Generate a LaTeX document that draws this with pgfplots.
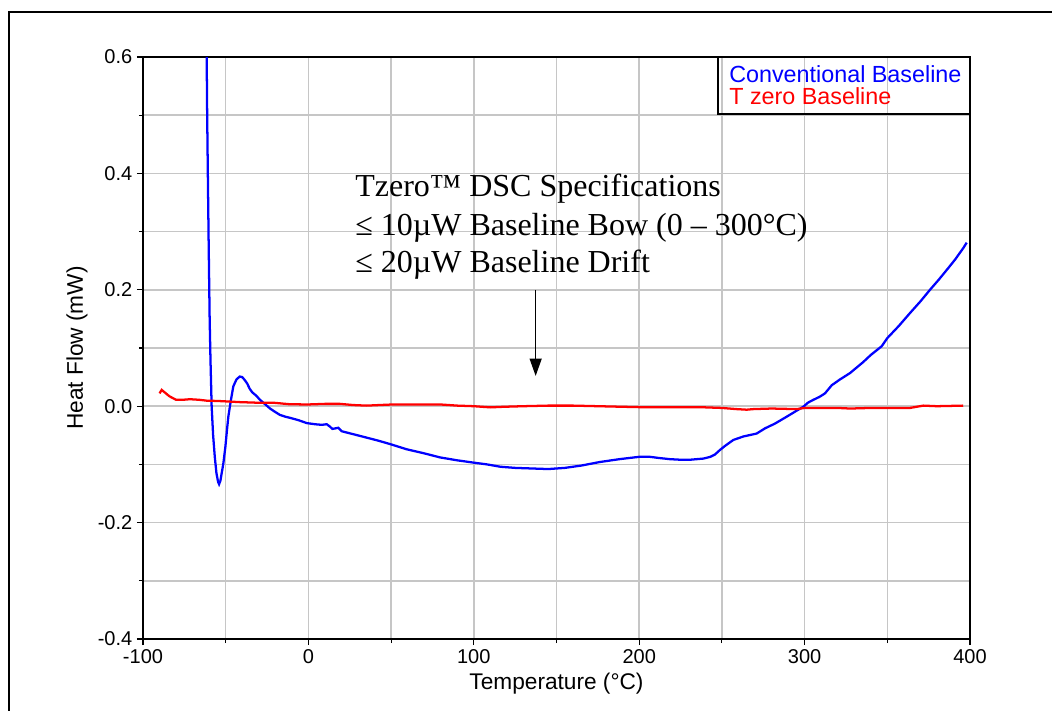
\documentclass[border=0pt]{standalone}
\usepackage{pgfplots}
\pgfplotsset{compat=1.18}
\usepackage{fontspec}
\setmainfont{Liberation Sans}
\newfontfamily\timesfont{Liberation Serif}
\usetikzlibrary{arrows.meta}

% DSC baselines
\pgfplotstableread{
T HF
-61.5 0.600
-61.2 0.500
-60.8 0.400
-60.3 0.280
-59.7 0.150
-59.2 0.080
-58.5 0.000
-57.6 -0.050
-56.6 -0.087
-55.6 -0.115
-54.6 -0.130
-54.0 -0.134
-53.2 -0.128
-52.3 -0.113
-51.4 -0.098
-50.2 -0.070
-49.2 -0.040
-48.4 -0.018
-47.0 0.008
-45.4 0.034
-43.5 0.046
-41.5 0.051
-40.0 0.050
-38.5 0.045
-37.0 0.039
-35.5 0.030
-34.0 0.024
-31.5 0.018
-29.3 0.011
-26.0 0.003
-23.2 -0.004
-20.0 -0.010
-17.2 -0.015
-14.0 -0.018
-11.1 -0.020
-6.0 -0.024
-1.0 -0.029
4.0 -0.031
8.0 -0.032
11.1 -0.031
13.0 -0.035
14.5 -0.039
16.5 -0.038
18.1 -0.037
20.1 -0.043
27.0 -0.048
35.2 -0.054
42.0 -0.059
49.3 -0.065
59.4 -0.074
70.0 -0.081
79.6 -0.088
90.0 -0.093
100.0 -0.097
108.0 -0.100
116.0 -0.104
125.0 -0.106
135.0 -0.107
145.0 -0.108
155.0 -0.106
165.0 -0.102
176.0 -0.096
188.0 -0.091
200.0 -0.087
206.5 -0.087
212.0 -0.089
218.6 -0.091
225.0 -0.092
230.7 -0.092
238.8 -0.090
243.0 -0.087
245.8 -0.083
248.9 -0.075
252.0 -0.068
256.9 -0.058
263.0 -0.052
271.0 -0.047
276.1 -0.038
282.0 -0.030
289.2 -0.018
295.0 -0.008
299.2 -0.001
302.0 0.006
305.3 0.011
309.0 0.016
312.3 0.022
316.4 0.036
321.4 0.046
327.5 0.057
335.5 0.076
340.0 0.088
346.6 0.103
350.0 0.117
357.0 0.138
363.7 0.160
370.0 0.180
375.8 0.200
381.0 0.217
385.9 0.234
391.0 0.252
396.0 0.272
398.0 0.281
}\conventional

\pgfplotstableread{
T HF
-90.0 0.022
-88.7 0.028
-87.0 0.024
-84.0 0.017
-80.0 0.011
-76.0 0.011
-71.6 0.012
-66.0 0.011
-61.5 0.0095
-55.0 0.009
-48.0 0.008
-41.4 0.007
-31.0 0.006
-21.2 0.006
-11.1 0.0033
0.0 0.003
10.0 0.004
19.1 0.004
27.0 0.002
35.2 0.001
43.0 0.002
51.3 0.003
62.0 0.003
79.6 0.003
90.0 0.001
100.0 0.000
110.0 -0.002
118.0 -0.001
130.0 0.000
145.0 0.001
160.0 0.001
175.0 0.000
190.0 -0.001
206.5 -0.002
220.0 -0.002
240.0 -0.002
250.0 -0.003
258.9 -0.005
265.0 -0.006
269.0 -0.005
280.0 -0.004
295.2 -0.005
300.0 -0.003
310.0 -0.003
320.0 -0.003
327.5 -0.004
340.0 -0.003
363.7 -0.003
371.8 0.001
380.0 0.000
395.9 0.001
}\tzero

\newcommand\tickfont{\fontsize{15}{17}\selectfont}

\begin{document}
\begin{tikzpicture}
\useasboundingbox (-107.25pt,-53.25pt) rectangle (681.75pt,479.25pt);
% outer frame (left and top edges only are visible)
\draw[line width=1.5pt] (-100.5pt,-60pt) -- (-100.5pt,470.25pt) -- (690pt,470.25pt);
\begin{axis}[
    at={(0,0)}, anchor=south west,
    scale only axis,
    width=620.25pt, height=436.5pt,
    xmin=-100, xmax=400, ymin=-0.4, ymax=0.6,
    xtick={-100,0,100,200,300,400},
    minor xtick={-50,50,150,250,350},
    ytick={-0.4,-0.2,0,0.2,0.4,0.6},
    minor ytick={-0.3,-0.1,0.1,0.3,0.5},
    grid=both,
    grid style={draw=gray!45, line width=1.1pt},
    minor grid style={draw=gray!45, line width=1.1pt},
    tick align=outside,
    xtick pos=left, ytick pos=left,
    major tick length=4.5pt, minor tick length=3pt,
    tick style={black, line width=0.8pt},
    axis line style={line width=1pt},
    /pgf/number format/assume math mode=true,
    xticklabel={\hbox{\tickfont\pgfmathprintnumber{\tick}}},
    yticklabel={\hbox{\tickfont\pgfmathprintnumber[fixed, fixed zerofill, precision=1]{\tick}}},
    label style={font=\fontsize{17}{20}\selectfont},
    xlabel={Temperature (°C)},
    ylabel={Heat Flow (mW)},
    x label style={at={(axis description cs:0.5,-0.0876)}, anchor=base},
    y label style={at={(axis description cs:-0.0798,0.5)}, anchor=center},
]
\addplot[blue, line width=1.7pt] table[x=T, y=HF] {\conventional};
\addplot[red, line width=1.7pt] table[x=T, y=HF] {\tzero};

% legend box (transparent, grid shows through)
\draw[line width=1pt] (axis cs:247.6,0.6) rectangle (axis cs:400,0.502);
\node[anchor=base west, text=blue, font=\fontsize{17.5}{20}\selectfont, inner sep=0pt]
    at (axis cs:254.3,0.5558) {Conventional Baseline};
\node[anchor=base west, text=red, font=\fontsize{17.5}{20}\selectfont, inner sep=0pt]
    at (axis cs:254.3,0.5192) {T zero Baseline};

% specification annotation
\node[anchor=base west, inner sep=0pt, font=\timesfont\fontsize{24}{27}\selectfont]
    at (axis cs:28.2,0.3595) {Tzero™ DSC Specifications};
\node[anchor=base west, inner sep=0pt, font=\timesfont\fontsize{24}{27}\selectfont]
    at (axis cs:28.2,0.294) {≤ 10µW Baseline Bow (0 – 300°C)};
\node[anchor=base west, inner sep=0pt, font=\timesfont\fontsize{24}{27}\selectfont]
    at (axis cs:28.2,0.229) {≤ 20µW Baseline Drift};
\draw[line width=0.9pt, -{Triangle[length=13pt,width=9pt]}]
    (axis cs:137.4,0.200) -- (axis cs:137.4,0.052);
\end{axis}
\end{tikzpicture}
\end{document}
